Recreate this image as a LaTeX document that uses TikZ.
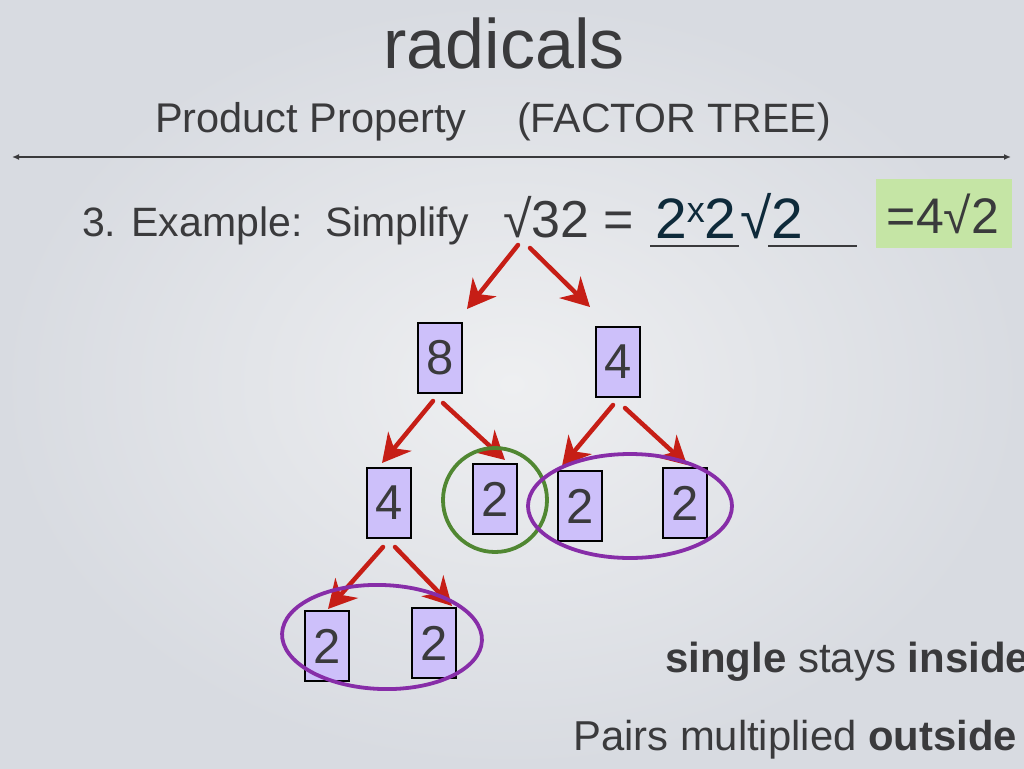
\documentclass[tikz,border=0pt]{standalone}
\usepackage{fontspec}
\setmainfont{Liberation Sans}
\usetikzlibrary{arrows.meta,shapes.geometric,calc}
\definecolor{txtgray}{RGB}{58,58,60}
\definecolor{teal}{RGB}{14,42,58}
\definecolor{redarrow}{RGB}{198,30,22}
\definecolor{lav}{RGB}{205,192,250}
\definecolor{grncirc}{RGB}{80,135,50}
\definecolor{purp}{RGB}{135,45,168}
\definecolor{grnbox}{RGB}{197,229,165}
\definecolor{bgin}{RGB}{238,239,241}
\definecolor{bgout}{RGB}{216,219,225}
\newcommand{\fs}[1]{\fontsize{#1}{#1}\selectfont}
\begin{document}
\begin{tikzpicture}[x=1pt,y=-1pt,
  txt/.style={text=txtgray, inner sep=0pt},
  numbox/.style={draw=black, line width=2pt, fill=lav, minimum width=44pt, minimum height=70pt, inner sep=0pt, text=txtgray, font=\fs{49}},
  redarr/.style={draw=redarrow, line width=4.5pt, line cap=round, -{Stealth[length=28pt,width=30pt,inset=9pt]}},
  ring/.style={ellipse, draw, line width=3.8pt, inner sep=0pt, fill=none},
  hrule/.style={draw=txtgray, line width=2.5pt}
]
\useasboundingbox (0,0) rectangle (1024,768);
\shade[inner color=bgin, outer color=bgout] (0,0) rectangle (1024,768);

% titles
\node[txt, font=\fs{70}, anchor=base] (title) at (504,68) {radicals};
\node[txt, font=\fs{41.5}, anchor=base west] (sub1) at (155,132) {Product Property};
\node[txt, font=\fs{41}, anchor=base west] (sub2) at (517,132) {(FACTOR TREE)};
\coordinate (hl) at (12,157);
\coordinate (hr) at (1011,157);
\draw[draw=txtgray, line width=2pt, {Latex[length=7pt,width=6pt]}-{Latex[length=7pt,width=6pt]}] (hl) -- (hr);

% example line
\node[txt, font=\fs{41}, anchor=base west] (ex) at (82,236) {3. Example:\ \ Simplify};
\node[txt, font=\fs{52}, anchor=base west] (eq) at (503,237) {√32 =};
\node[txt, text=teal, font=\fs{57}, anchor=base west] (ans1) at (655,238) {2\raisebox{16pt}{\fs{36}x}2};
\node[txt, text=teal, font=\fs{57}, anchor=base west] (ans2) at (740,238) {√2};
\draw[hrule] ($(ans1.base west)+(-5,8)$) -- ($(ans1.base east)+(2,8)$);
\draw[hrule] ($(ans2.base west)+(28,8)$) -- ($(ans2.base west)+(117,8)$);
\node[fill=grnbox, minimum width=136pt, minimum height=69pt, inner sep=0pt] (gbox) at (944,213.5) {};
\node[txt, font=\fs{50}, anchor=base] (res) at (943,233) {=4√2};

% tree boxes
\node[numbox] (n8) at (440,358) {8};
\node[numbox] (n4r) at (618,362) {4};
\node[numbox] (n4) at (389,503) {4};
\node[numbox] (n2a) at (495,499) {2};
\node[numbox] (n2b) at (580,506) {2};
\node[numbox] (n2c) at (685,503) {2};
\node[numbox] (n2d) at (327,646) {2};
\node[numbox] (n2e) at (434,643) {2};

% arrows
\draw[redarr] ($(eq.base west)+(15,8)$) -- ($(n8.north)+(27,-13)$);
\draw[redarr] ($(eq.base west)+(27,11)$) -- ($(n4r.north)+(-28,-19)$);
\draw[redarr] ($(n8.south)+(-7,7)$) -- ($(n4.north)+(-7,-4)$);
\draw[redarr] ($(n8.south)+(3,9)$) -- ($(n2a.north)+(10,-3)$);
\draw[redarr] ($(n4r.south)+(-5,7)$) -- ($(n2b.north)+(-18,-4)$);
\draw[redarr] ($(n4r.south)+(7,10)$) -- ($(n2c.north)+(2,-2)$);
\draw[redarr] ($(n4.south)+(-6,8)$) -- ($(n2d.north)+(1,-1)$);
\draw[redarr] ($(n4.south)+(6,8)$) -- ($(n2e.north)+(18,-1)$);

% rings
\node[ring, draw=grncirc, minimum width=104pt, minimum height=104pt] (gring) at (495,500) {};
\node[ring, draw=purp, minimum width=204pt, minimum height=104pt] (pring1) at (630,506) {};
\node[ring, draw=purp, minimum width=200pt, minimum height=104pt, rotate=-2] (pring2) at (382,637) {};

% notes
\node[txt, font=\fs{42}, anchor=base west] (note1) at (665,672) {\textbf{single} stays \textbf{inside}};
\node[txt, font=\fs{41.8}, anchor=base west] (note2) at (573,750) {Pairs multiplied \textbf{outside}};
\end{tikzpicture}
\end{document}
